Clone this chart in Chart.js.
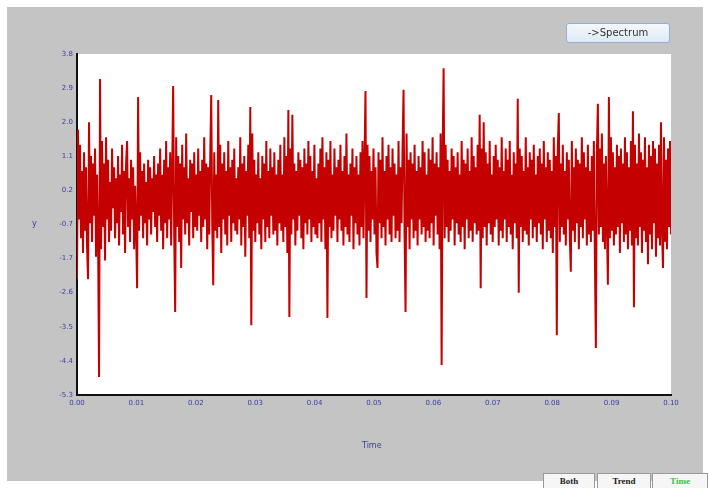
<!DOCTYPE html>
<html>
<head>
<meta charset="utf-8">
<script src="https://cdn.jsdelivr.net/npm/chart.js@4.4.1/dist/chart.umd.min.js"></script>
<style>
  html, body { margin: 0; padding: 0; background: #fff; }
  #wrap { position: relative; width: 709px; height: 488px; overflow: hidden; }
  #panel { position: absolute; left: 7px; top: 7px; width: 696px; height: 474px; background: #c4c4c4; }
  #chart { position: absolute; left: 0; top: 0; }
  .lbl { position: absolute; color: #3c3ca8; font: 8px "DejaVu Sans", sans-serif; }
  #spectrum {
    position: absolute; left: 566px; top: 23px; width: 102px; height: 18px;
    border: 1px solid #8fb2d4; border-radius: 3px;
    background: linear-gradient(#f4f8fc, #dfe9f3);
    font: 10px "DejaVu Sans", sans-serif; color: #333; text-align: center; line-height: 18px;
  }
  .tab {
    position: absolute; top: 473px; height: 15px; background: #f6f6f6; border: 1px solid #9a9a9a;
    border-bottom: none; font: bold 9px "Liberation Serif", serif; color: #222;
    text-align: center; line-height: 15px;
  }
</style>
</head>
<body>
<div id="wrap">
  <div id="panel"></div>
  <canvas id="chart" width="709" height="488"></canvas>
  <div id="spectrum">-&gt;Spectrum</div>
  <div class="lbl" style="left:362px; top:441px;">Time</div>
  <div class="lbl" style="left:32px; top:219px;">y</div>
  <div class="tab" style="left:543px; width:50px;">Both</div>
  <div class="tab" style="left:597px; width:52px;">Trend</div>
  <div class="tab" style="left:652px; width:54px; color:#3cc03c;">Time</div>
</div>
<script>
// signal samples, one per pixel column
const signal = [
  -2.2,1.8,-0.6,1.4,-1.1,0.7,-1.5,1.2,-0.9,0.8,-1.3,-2.2,2.0,-0.7,1.1,-1.2,0.9,-0.5,1.3,-1.6,
  0.6,-1.0,-4.82,3.16,-1.4,1.5,-0.8,0.9,-1.7,1.6,-0.6,1.0,-1.2,0.4,-0.9,1.3,-0.3,0.8,-1.1,0.5,
  -0.7,1.1,-1.3,0.6,-0.4,1.4,-1.0,0.7,-1.5,0.9,1.5,-0.8,0.5,-1.2,1.0,-0.6,0.8,-1.4,0.3,-0.9,
  -2.44,2.68,-0.9,1.2,-0.5,0.7,-1.1,0.9,-0.7,0.4,-1.3,1.0,-0.6,0.8,-1.0,0.5,-0.4,1.1,-0.8,0.6,
  -1.2,0.9,-0.5,1.3,-0.9,0.6,-1.4,1.0,-0.7,1.5,-1.1,0.8,-0.6,1.2,-1.3,0.7,2.97,-0.9,-3.08,1.6,
  -0.8,1.1,-1.2,0.9,-1.9,1.4,-0.6,0.8,-1.0,1.7,-0.7,0.5,-1.3,1.0,-0.4,0.9,-1.1,1.2,-0.8,0.6,
  -0.9,1.3,-0.5,0.7,-1.2,1.0,-0.8,1.6,-0.6,0.9,-1.4,0.8,-1.0,1.1,2.73,-0.7,-2.36,1.2,-0.9,0.6,
  -1.1,2.6,-0.8,1.4,-1.5,0.9,-0.6,1.2,-1.0,0.7,-1.3,1.5,-0.5,0.8,-1.2,1.0,-0.7,1.3,-0.9,0.5,
  -1.0,0.8,-0.6,1.6,-1.3,0.9,-0.8,1.1,-1.6,0.7,-0.5,1.4,-1.1,2.41,-3.43,1.7,-0.9,1.0,-1.2,0.6,
  -0.7,1.2,-1.0,0.5,-1.4,1.1,-0.6,0.9,-1.2,1.5,-0.8,0.7,-1.1,1.3,-0.5,0.8,-1.0,1.2,-0.9,0.6,
  -1.3,1.0,-0.7,1.4,-0.9,0.6,-1.2,1.6,-0.8,1.1,-1.5,2.33,-3.21,1.3,-1.0,2.2,-0.6,0.9,-1.3,0.7,
  -0.9,1.2,-0.5,1.0,-1.1,0.8,-1.4,1.3,-0.7,0.9,-1.0,1.5,-0.6,1.1,-1.2,0.7,-0.8,1.4,-1.0,0.5,
  -1.1,0.9,-0.7,1.3,-1.2,1.6,-0.6,0.8,-1.4,1.2,-3.24,1.0,-0.8,1.5,-1.1,0.6,-0.9,1.3,-0.5,0.8,
  -1.2,1.0,-0.6,1.4,-0.9,0.7,-1.3,1.1,-0.8,1.7,-1.0,0.6,-1.2,0.9,-0.5,1.3,-1.4,0.8,-0.7,1.1,
  -1.0,0.6,-1.3,1.2,-0.8,1.5,-1.1,0.9,2.84,-2.7,1.4,-0.9,1.1,-1.2,0.7,-0.6,1.3,-1.0,0.8,-1.5,
  -1.9,1.2,-0.7,1.0,-1.1,1.6,-0.8,0.7,-1.3,1.1,-0.6,1.4,-1.0,0.8,-1.2,1.3,-0.5,0.9,-1.1,0.6,
  -0.9,1.5,-1.2,0.8,-0.7,1.3,2.87,-1.0,-3.08,1.7,-0.8,1.0,-1.4,1.2,-0.6,0.9,-1.1,1.4,-0.9,0.7,
  -1.3,1.1,-0.6,0.8,-1.0,1.5,-0.8,1.2,-1.2,0.6,-0.9,1.3,-1.1,1.0,-0.7,1.6,-1.3,0.9,-0.5,1.2,
  -1.0,0.8,-1.4,1.7,-4.5,1.2,3.45,-1.1,1.4,-0.8,1.0,-1.2,0.7,-0.9,1.3,-0.6,1.1,-1.3,0.8,-0.7,
  1.2,-1.0,0.6,-1.2,1.5,-0.8,1.0,-1.4,0.9,-0.6,1.3,-1.1,0.7,-0.9,1.6,-1.2,1.1,-0.7,0.8,-1.0,
  1.4,-0.9,2.2,-2.44,1.3,-1.1,2.0,-0.8,1.2,-1.3,0.9,-0.7,1.5,-1.0,0.6,-1.2,1.1,-0.8,1.4,-0.6,
  1.0,-1.3,0.8,-0.9,1.6,-1.1,0.7,-0.6,1.3,-1.2,1.0,-0.8,1.5,-1.0,0.6,-1.4,1.2,-0.7,0.9,-1.1,
  2.63,-2.56,1.3,-0.8,1.1,-1.2,0.7,-0.9,1.6,-1.0,0.8,-1.3,1.2,-0.6,1.0,-1.1,1.4,-0.8,0.6,-1.2,
  1.1,-0.7,1.3,-1.0,0.9,-1.4,1.5,-0.6,0.8,-1.2,1.2,-0.9,1.0,-1.1,0.7,-1.5,1.6,-0.8,1.1,-3.7,
  1.3,2.25,-1.2,0.9,-0.8,1.4,-1.0,0.7,-1.3,1.2,-0.6,1.0,-1.1,-2.0,1.5,-0.9,0.8,-1.2,1.3,-0.7,
  1.0,-1.4,0.9,-0.8,1.6,-1.1,1.2,-0.6,0.8,-1.3,1.4,-1.0,0.7,-1.2,1.1,-0.9,1.5,-1.6,-4.04,1.2,
  2.5,-1.0,1.3,-0.8,1.7,-1.2,0.9,-1.4,1.1,-0.7,-2.35,2.68,-1.1,1.6,-0.9,1.2,-1.3,0.8,-1.0,1.4,
  -0.8,1.1,-1.5,1.3,-0.7,0.9,-1.2,1.6,-1.0,1.2,-1.4,0.8,-0.9,1.5,-1.3,2.3,-2.95,1.4,-1.1,0.9,
  -1.3,1.7,-0.8,1.2,-1.5,1.0,-0.9,1.6,-1.2,0.8,-1.8,1.4,-1.0,1.1,-1.4,1.5,-0.7,1.3,-1.6,0.9,
  -1.1,1.4,-1.3,2.0,-0.9,-1.9,1.6,-1.2,1.0,-1.4,1.3,-0.8,1.5,-1.0
];
const tEnd = 0.1;

const yTickValues = [3.83, 2.92, 2.0, 1.09, 0.18, -0.74, -1.65, -2.56, -3.48, -4.39, -5.3];
const yTickLabels = ['3.8', '2.9', '2.0', '1.1', '0.2', '-0.7', '-1.7', '-2.6', '-3.5', '-4.4', '-5.3'];
const xTickValues = [0, 0.01, 0.02, 0.03, 0.04, 0.05, 0.06, 0.07, 0.08, 0.09, 0.1];
const xTickLabels = ['0.00', '0.01', '0.02', '0.03', '0.04', '0.05', '0.06', '0.07', '0.08', '0.09', '0.10'];

const dt = tEnd / (signal.length - 1);
const points = signal.map((v, i) => ({ x: i * dt, y: v }));

const plotBg = {
  id: 'plotBg',
  beforeDraw(chart) {
    const { ctx, chartArea: a } = chart;
    ctx.save();
    ctx.fillStyle = '#fff';
    ctx.fillRect(a.left, a.top, a.right - a.left, a.bottom - a.top);
    ctx.restore();
  }
};

const tickFont = { family: 'DejaVu Sans', size: 7 };

new Chart(document.getElementById('chart'), {
  type: 'line',
  data: {
    datasets: [{
      data: points,
      borderColor: '#c40000',
      borderWidth: 2,
      pointRadius: 0,
      tension: 0
    }]
  },
  options: {
    responsive: false,
    animation: false,
    events: [],
    parsing: false,
    layout: { padding: { left: 0, top: 54, right: 38, bottom: 0 } },
    plugins: { legend: { display: false }, tooltip: { enabled: false } },
    scales: {
      x: {
        type: 'linear', min: 0, max: tEnd,
        afterBuildTicks: s => { s.ticks = xTickValues.map(value => ({ value })); },
        afterFit: s => { s.height = 93; },
        grid: { display: false, drawTicks: true, tickLength: 3 },
        border: { color: '#111', width: 2 },
        ticks: {
          color: '#3c3ca8', font: tickFont, padding: 1, maxRotation: 0, autoSkip: false,
          callback: (v, i) => xTickLabels[i]
        }
      },
      y: {
        type: 'linear', min: -5.3, max: 3.83,
        afterBuildTicks: s => { s.ticks = yTickValues.map(value => ({ value })); },
        afterFit: s => { s.width = 77; },
        grid: { display: false, tickLength: 3 },
        border: { color: '#111', width: 2 },
        ticks: {
          color: '#3c3ca8', font: tickFont, padding: 1, autoSkip: false,
          callback: (v, i) => yTickLabels[i]
        }
      }
    }
  },
  plugins: [plotBg]
});
</script>
</body>
</html>
